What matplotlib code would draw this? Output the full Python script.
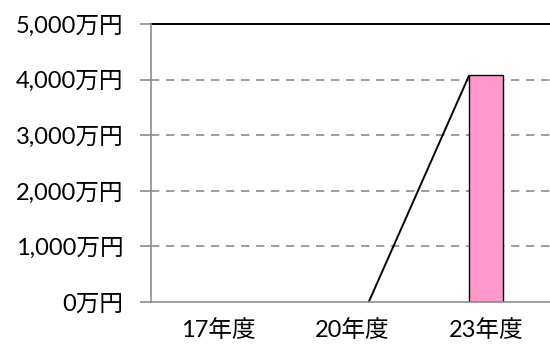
import matplotlib
matplotlib.use("Agg")
import matplotlib.pyplot as plt
from matplotlib.ticker import FuncFormatter

plt.rcParams['font.family'] = ['Lato', 'Noto Sans CJK JP', 'DejaVu Sans']

categories = ["17年度", "20年度", "23年度"]
values = [0, 0, 4080]
yticks = [0, 1000, 2000, 3000, 4000, 5000]

W, H = 550, 350
fig = plt.figure(figsize=(W / 100, H / 100), dpi=100)
left, right, bottom, top = 151, 553, 302, 24
ax = fig.add_axes([left / W, (H - bottom) / H, (right - left) / W, (bottom - top) / H])

x = list(range(len(categories)))
bw = 0.25
for xi, v in zip(x, values):
    if v > 0:
        ax.bar(xi, v, width=bw, color="#FF99CC", edgecolor="black", linewidth=1, zorder=3)

# series line connecting bar tops (right edge of previous to left edge of next)
for i in range(len(values) - 1):
    if values[i] == 0 and values[i + 1] == 0:
        continue
    ax.plot([x[i] + bw / 2, x[i + 1] - bw / 2], [values[i], values[i + 1]],
            color="black", linewidth=1.4, zorder=4, solid_capstyle="butt")

ax.set_xlim(-0.5, len(categories) - 0.5)
ax.set_ylim(0, 5000)
ax.set_yticks(yticks)
ax.yaxis.set_major_formatter(FuncFormatter(lambda v, p: f"{int(v):,}万円"))
ax.set_xticks(x)
ax.set_xticklabels(categories)

for v in yticks[1:-1]:
    ax.axhline(v, color="#8c8c8c", linewidth=1.2, linestyle=(0, (5, 4)), zorder=1)
ax.axhline(5000, color="black", linewidth=1.4, zorder=2, clip_on=False)

for s in ["top", "right"]:
    ax.spines[s].set_visible(False)
ax.spines["left"].set_color("#8c8c8c")
ax.spines["bottom"].set_color("#8c8c8c")
ax.spines["left"].set_linewidth(1.2)
ax.spines["bottom"].set_linewidth(1.2)
ax.spines["bottom"].set_zorder(5)

ax.tick_params(axis="y", length=8, color="#8c8c8c", width=1.2, labelsize=17, pad=12, labelcolor="black")
ax.tick_params(axis="x", length=0, labelsize=17, pad=12, labelcolor="black")

fig.savefig("out.png", dpi=100)
